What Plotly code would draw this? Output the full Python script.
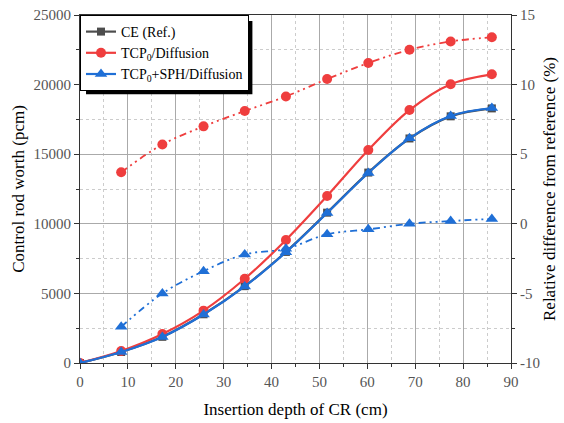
import plotly.graph_objects as go

depth = [0, 8.6, 17.2, 25.8, 34.4, 43.0, 51.6, 60.2, 68.8, 77.4, 86.0]
ce_worth = [0, 790, 1880, 3500, 5520, 7980, 10800, 13680, 16130, 17720, 18290]
tcp_worth = [0, 860, 2080, 3760, 6050, 8840, 12000, 15300, 18170, 20030, 20740]
sph_worth = [0, 790, 1870, 3480, 5500, 7960, 10780, 13650, 16140, 17750, 18320]

diff_depth = [8.6, 17.2, 25.8, 34.4, 43.0, 51.6, 60.2, 68.8, 77.4, 86.0]
tcp_diff = [3.7, 5.7, 7.0, 8.1, 9.15, 10.4, 11.55, 12.5, 13.1, 13.4]
sph_diff = [-7.4, -5.0, -3.4, -2.2, -1.8, -0.75, -0.4, 0.0, 0.2, 0.35]

left_ticks = [0, 5000, 10000, 15000, 20000, 25000]
right_ticks = [-10, -5, 0, 5, 10, 15]
x_ticks = [0, 10, 20, 30, 40, 50, 60, 70, 80, 90]

GRAY = "#4d4d4d"
RED = "#ef3e3e"
BLUE = "#1f6fd6"
FONT = "Liberation Serif"
DASH = "7px,4px,2px,4px,2px,4px"

fig = go.Figure()
fig.add_trace(go.Scatter(x=diff_depth, y=tcp_diff, yaxis="y2", mode="lines+markers",
                         line=dict(color=RED, width=1.8, dash=DASH, shape="spline"),
                         marker=dict(symbol="circle", size=10, color=RED), showlegend=False))
fig.add_trace(go.Scatter(x=diff_depth, y=sph_diff, yaxis="y2", mode="lines+markers",
                         line=dict(color=BLUE, width=1.8, dash=DASH, shape="spline"),
                         marker=dict(symbol="triangle-up", size=11, color=BLUE), showlegend=False))
fig.add_trace(go.Scatter(x=depth, y=ce_worth, mode="lines+markers", name="CE (Ref.)",
                         line=dict(color=GRAY, width=2.2, shape="spline"),
                         marker=dict(symbol="square", size=8, color=GRAY)))
fig.add_trace(go.Scatter(x=depth, y=tcp_worth, mode="lines+markers", name="TCP<sub>0</sub>/Diffusion",
                         line=dict(color=RED, width=2.2, shape="spline"),
                         marker=dict(symbol="circle", size=10, color=RED)))
fig.add_trace(go.Scatter(x=depth, y=sph_worth, mode="lines+markers", name="TCP<sub>0</sub>+SPH/Diffusion",
                         line=dict(color=BLUE, width=2.2, shape="spline"),
                         marker=dict(symbol="triangle-up", size=11, color=BLUE)))

axis_common = dict(showline=True, linecolor="#333", linewidth=1.2, ticks="outside",
                   ticklen=5, tickcolor="#333", tickfont=dict(family=FONT, size=15, color="#555"),
                   zeroline=False, automargin=False)
title_font = dict(family=FONT, size=17, color="black")

fig.update_layout(
    width=564, height=423,
    margin=dict(l=80, r=53, t=15, b=60),
    paper_bgcolor="white", plot_bgcolor="white",
    font=dict(family=FONT, size=15, color="black"),
    xaxis=dict(range=[0, 90], tickvals=x_ticks, ticktext=[str(v) for v in x_ticks], mirror=True,
               showgrid=True, gridcolor="#aaaaaa", gridwidth=1.2,
               minor=dict(dtick=5, tick0=0, ticks="outside", ticklen=3, tickcolor="#333",
                          showgrid=True, gridcolor="#cccccc", griddash="dot"),
               title=dict(text="Insertion depth of CR (cm)", font=title_font, standoff=14),
               **axis_common),
    yaxis=dict(range=[0, 25000], tickvals=left_ticks, ticktext=[str(v) for v in left_ticks],
               showgrid=True, gridcolor="#aaaaaa", gridwidth=1.2,
               minor=dict(dtick=2500, tick0=0, ticks="outside", ticklen=3, tickcolor="#333",
                          showgrid=True, gridcolor="#cccccc", griddash="dot"),
               title=dict(text="Control rod worth (pcm)", font=title_font, standoff=4),
               **axis_common),
    yaxis2=dict(range=[-10, 15], tickvals=right_ticks, ticktext=[str(v) for v in right_ticks],
                overlaying="y", side="right", showgrid=False,
                minor=dict(dtick=2.5, tick0=0, ticks="outside", ticklen=3, tickcolor="#333"),
                title=dict(text="Relative difference from reference (%)", font=title_font, standoff=4),
                **axis_common),
    legend=dict(x=0.0, y=1.0, xanchor="left", yanchor="top",
                bgcolor="white", bordercolor="black", borderwidth=1,
                font=dict(family=FONT, size=14, color="black"),
                tracegroupgap=0, itemwidth=30),
    shapes=[dict(type="rect", xref="paper", yref="paper", x0=0.014, x1=0.400, y0=0.772, y1=0.983,
                 fillcolor="black", line=dict(width=0), layer="above")],
)

fig.write_html("out.html", config={"displayModeBar": False},
               post_script="document.body.style.margin='0';document.body.style.overflow='hidden';")
